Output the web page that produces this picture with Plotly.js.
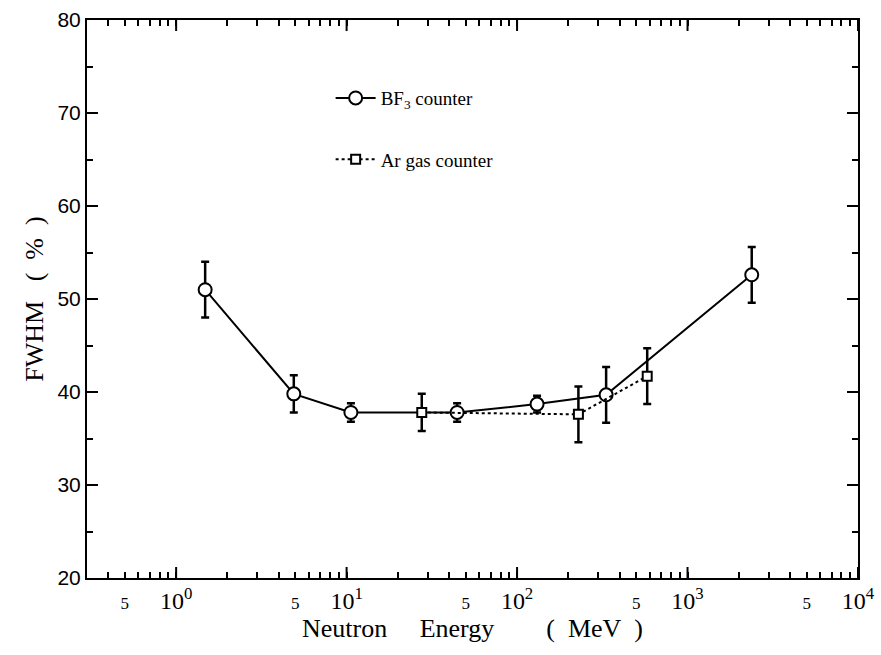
<!DOCTYPE html>
<html><head><meta charset="utf-8">
<script src="https://cdn.plot.ly/plotly-3.0.1.min.js"></script>
<style>body{margin:0;background:#fff}#chart{width:881px;height:655px}</style>
</head><body><div id="chart"></div>
<script>
// BF3 counter
const bfEnergy = [1.48, 4.9, 10.6, 44.5, 131, 333, 2380];
const bfFwhm   = [51.0, 39.8, 37.8, 37.8, 38.7, 39.7, 52.6];
const bfErr    = [3.0, 2.0, 1.0, 1.0, 0.9, 3.0, 3.0];
// Ar gas counter
const arEnergy = [27.6, 229, 580];
const arFwhm   = [37.8, 37.6, 41.7];
const arErr    = [2.0, 3.0, 3.0];
// axis ticks and labels
const decadeVals = [1, 10, 100, 1000, 10000];
const decadeText = ['10<sup>0</sup>','10<sup>1</sup>','10<sup>2</sup>','10<sup>3</sup>','10<sup>4</sup>'];
const minorVals = [0.4,0.5,0.6,0.7,0.8,0.9, 2,3,4,5,6,7,8,9, 20,30,40,50,60,70,80,90,
                   200,300,400,500,600,700,800,900, 2000,3000,4000,5000,6000,7000,8000,9000];
const fiveVals = [0.5, 5, 50, 500, 5000];

const serif = 'Liberation Serif';
const xr = [Math.log10(0.3), 4];
const allVals = decadeVals.concat(minorVals);
const allText = decadeText.concat(minorVals.map(v => fiveVals.includes(v) ? '<span style="font-size:17px">5</span>' : ''));
const frac = v => (Math.log10(v) - xr[0]) / (xr[1] - xr[0]);
const shapes = [];
decadeVals.forEach(v => {
  shapes.push({type:'line', xref:'x domain', yref:'paper', ysizemode:'pixel', yanchor:0, x0:frac(v), x1:frac(v), y0:0, y1:11, line:{color:'#000', width:2}});
  shapes.push({type:'line', xref:'x domain', yref:'paper', ysizemode:'pixel', yanchor:1, x0:frac(v), x1:frac(v), y0:0, y1:-11, line:{color:'#000', width:2}});
});

const traces = [
  {x: bfEnergy, y: bfFwhm, type:'scatter', mode:'lines+markers', name:'BF<sub>3</sub> counter',
   line:{color:'#000', width:2},
   marker:{symbol:'circle', size:13, color:'#fff', line:{color:'#000', width:2}},
   error_y:{type:'data', array:bfErr, visible:true, color:'#000', thickness:2.5, width:4},
   legend:'legend'},
  {x: arEnergy, y: arFwhm, type:'scatter', mode:'lines+markers', name:'Ar gas counter',
   line:{color:'#000', width:2, dash:'dot'},
   marker:{symbol:'square', size:9, color:'#fff', line:{color:'#000', width:2}},
   error_y:{type:'data', array:arErr, visible:true, color:'#000', thickness:2.5, width:4},
   legend:'legend2'}
];
const layout = {
  width:881, height:655, paper_bgcolor:'#fff', plot_bgcolor:'#fff',
  margin:{l:87, r:23, t:20, b:77},
  showlegend:true,
  font:{family:serif, color:'#000'},
  shapes: shapes,
  xaxis:{type:'log', range:xr, tickmode:'array', tickvals:allVals, ticktext:allText,
    ticks:'inside', ticklen:6, tickwidth:2, tickcolor:'#000',
    showline:true, linecolor:'#000', linewidth:2, mirror:'allticks', showgrid:false, zeroline:false,
    tickfont:{family:serif, size:24, color:'#000'},
    title:{text:'Neutron&nbsp;&nbsp;&nbsp;&nbsp;&nbsp;Energy&nbsp;&nbsp;&nbsp;&nbsp;&nbsp;&nbsp;&nbsp;&nbsp;(&nbsp;&nbsp;MeV&nbsp;&nbsp;)', font:{family:serif, size:26, color:'#000'}, standoff:6}},
  yaxis:{range:[20,80], tickmode:'linear', tick0:20, dtick:10,
    ticks:'inside', ticklen:11, tickwidth:2, tickcolor:'#000',
    minor:{ticks:'inside', ticklen:6, tickwidth:2, tickcolor:'#000', dtick:5, showgrid:false},
    showline:true, linecolor:'#000', linewidth:2, mirror:'allticks', showgrid:false, zeroline:false,
    tickfont:{family:'Liberation Sans', size:21, color:'#000'},
    title:{text:'FWHM&nbsp;&nbsp;&nbsp;(&nbsp;&nbsp;%&nbsp;&nbsp;)', font:{family:serif, size:26, color:'#000'}, standoff:6}},
  legend:{x:0.316, y:0.86, xanchor:'left', yanchor:'middle', bgcolor:'rgba(0,0,0,0)',
    font:{family:serif, size:19, color:'#000'}, itemwidth:40},
  legend2:{x:0.316, y:0.75, xanchor:'left', yanchor:'middle', bgcolor:'rgba(0,0,0,0)',
    font:{family:serif, size:19, color:'#000'}, itemwidth:40}
};
Plotly.newPlot('chart', traces, layout, {displayModeBar:false, staticPlot:true});
</script></body></html>
